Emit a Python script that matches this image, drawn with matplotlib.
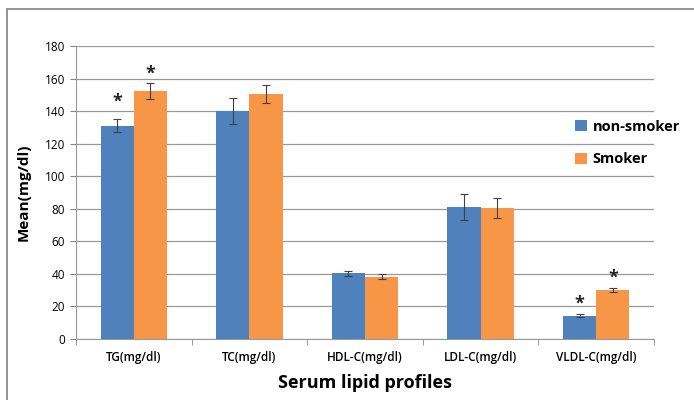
import numpy as np
import matplotlib.pyplot as plt
from matplotlib.patches import Rectangle

categories = ['TG(mg/dl)', 'TC(mg/dl)', 'HDL-C(mg/dl)', 'LDL-C(mg/dl)', 'VLDL-C(mg/dl)']
non_smoker = [131, 140, 40.3, 81, 14.3]
non_smoker_err = [4, 8, 1.7, 8, 1]
smoker = [152.3, 150.4, 38.3, 80.5, 30.2]
smoker_err = [5, 5.5, 1.5, 6.2, 1.3]
# stars marking significant differences: (category index, series, height)
stars = [(0, 0, 146), (0, 1, 163), (4, 0, 21.5), (4, 1, 37.5)]

plt.rcParams['font.family'] = ['Open Sans', 'DejaVu Sans']

fig = plt.figure(figsize=(6.94, 4.0), dpi=100)
ax = fig.add_axes([0.1095, 0.1525, 0.833, 0.7325])

x = np.arange(len(categories))
w = 0.287
blue = '#4F81BD'
orange = '#F79646'
ax.bar(x - w / 2, non_smoker, w, color=blue, label='non-smoker', zorder=2)
ax.bar(x + w / 2, smoker, w, color=orange, label='Smoker', zorder=2)
ax.errorbar(x - w / 2, non_smoker, yerr=non_smoker_err, fmt='none', ecolor='#404040',
            elinewidth=0.8, capsize=3, capthick=0.8, zorder=3)
ax.errorbar(x + w / 2, smoker, yerr=smoker_err, fmt='none', ecolor='#404040',
            elinewidth=0.8, capsize=3, capthick=0.8, zorder=3)
for i, s, h in stars:
    ax.text(x[i] + (s - 0.5) * w, h, '*', ha='center', va='center', fontsize=13,
            fontweight='bold', color='#222222')

ax.set_xlim(-0.5, len(categories) - 0.5)
ax.set_ylim(0, 180)
ax.set_yticks(np.arange(0, 181, 20))
ax.set_xticks(x)
ax.set_xticklabels(categories, fontsize=8.5, fontweight='semibold')
ax.set_xticks(np.arange(-0.5, len(categories), 1), minor=True)
ax.tick_params(axis='x', which='major', length=0, pad=9)
ax.tick_params(axis='x', which='minor', length=4, color='#888888')
ax.tick_params(axis='y', length=4, color='#888888', labelsize=8.5, pad=4)
ax.grid(axis='y', color='#999999', linewidth=0.9, zorder=0)
ax.set_axisbelow(True)
for side in ['top', 'right']:
    ax.spines[side].set_visible(False)
for side in ['left', 'bottom']:
    ax.spines[side].set_color('#999999')

ax.set_ylabel('Mean(mg/dl)', fontsize=11, fontweight='bold', labelpad=10)
ax.set_xlabel('Serum lipid profiles', fontsize=13, fontweight='bold', labelpad=7)

ax.legend(loc='center left', bbox_to_anchor=(0.853, 0.669), frameon=False,
          prop={'weight': 'bold', 'size': 10.5}, handlelength=0.8, handleheight=0.8,
          handletextpad=0.4, labelspacing=1.3, borderaxespad=0)

fig.patches.append(Rectangle((7 / 694, -0.1), 1.2, 1 - 9 / 400 + 0.1, transform=fig.transFigure,
                             fill=False, edgecolor='#808080', linewidth=1.2))

fig.savefig('out.png', dpi=100)
